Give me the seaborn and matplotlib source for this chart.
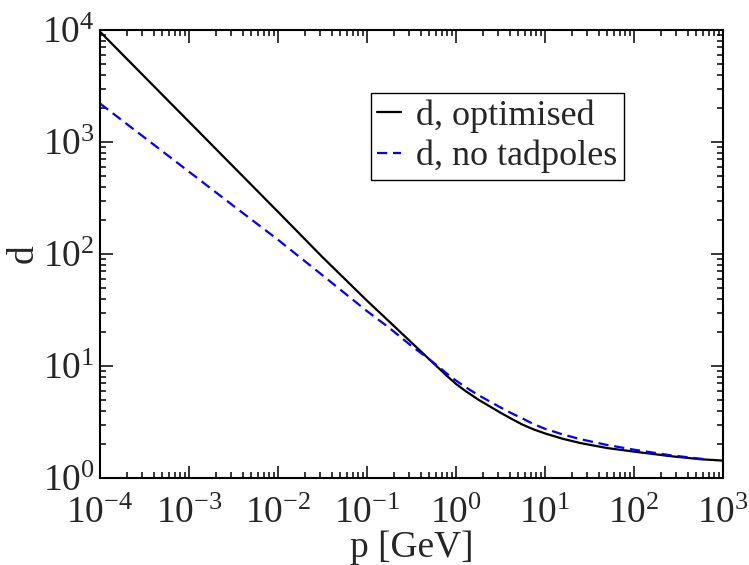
import numpy as np
import pandas as pd
import matplotlib
matplotlib.use("Agg")
import matplotlib.pyplot as plt
from matplotlib.ticker import FixedLocator, LogFormatterSciNotation, NullFormatter
import seaborn as sns

# momentum grid [GeV] and the two d curves
p_opt = [1e-4, 3.16e-4, 1e-3, 3.16e-3, 1e-2, 3.16e-2, 0.1, 0.178, 0.316,
         0.447, 0.631, 0.794, 1.0, 1.26, 1.78, 3.16, 4.22, 5.62, 7.5, 10,
         15.8, 25.1, 50.1, 100, 251, 562, 1000]
d_opt = [9660, 3828, 1517, 601, 238, 93.8, 38.3, 24.9, 16.2,
         12.5, 9.66, 8.13, 6.92, 6.03, 5.01, 3.83, 3.37, 2.99, 2.71, 2.50,
         2.24, 2.05, 1.85, 1.72, 1.57, 1.47, 1.43]

p_notad = [1e-4, 3.16e-4, 1e-3, 3.16e-3, 1e-2, 3.16e-2, 0.1, 0.178, 0.316,
           0.447, 0.631, 0.794, 1.0, 1.26, 1.78, 3.16, 4.22, 5.62, 7.5, 10,
           15.8, 25.1, 50.1, 100, 251, 631]
d_notad = [2208, 1096, 543, 269, 134, 64.6, 30.9, 21.9, 15.1,
           12.3, 9.93, 8.51, 7.41, 6.53, 5.50, 4.27, 3.78, 3.39, 3.02, 2.75,
           2.45, 2.22, 1.97, 1.79, 1.60, 1.47]

labels = ["d, optimised", "d, no tadpoles"]

x_decades = [-4, -3, -2, -1, 0, 1, 2, 3]
y_decades = [0, 1, 2, 3, 4]

sns.set_style("ticks")
plt.rcParams["font.family"] = ["Liberation Serif", "DejaVu Serif"]
plt.rcParams["mathtext.fontset"] = "custom"
plt.rcParams["mathtext.rm"] = "Liberation Serif"
plt.rcParams["mathtext.it"] = "Liberation Serif:italic"
plt.rcParams["mathtext.bf"] = "Liberation Serif:bold"

FS_TICK = 27
FS_LABEL = 27
FS_LEG = 26

fig = plt.figure(figsize=(7.49, 5.65), dpi=100)
ax = fig.add_axes([100 / 749, 1 - 478 / 565, 623 / 749, 448 / 565])

df_opt = pd.DataFrame({"p": p_opt, "d": d_opt})
df_notad = pd.DataFrame({"p": p_notad, "d": d_notad})

sns.lineplot(data=df_opt, x="p", y="d", ax=ax, color="black", lw=1.6,
             label=labels[0])
sns.lineplot(data=df_notad, x="p", y="d", ax=ax, color="#0000ff", lw=1.6,
             linestyle=(0, (4.6, 2.6)), label=labels[1])

ax.set_xscale("log")
ax.set_yscale("log")
ax.set_xlim(1e-4, 1e3)
ax.set_ylim(1, 1e4)


def log_ticks(decades):
    major = [10.0 ** k for k in decades]
    minor = [m * 10.0 ** k for k in decades[:-1] for m in range(2, 10)]
    return major, minor


for axis, decades in ((ax.xaxis, x_decades), (ax.yaxis, y_decades)):
    major, minor = log_ticks(decades)
    axis.set_major_locator(FixedLocator(major))
    axis.set_minor_locator(FixedLocator(minor))
    axis.set_major_formatter(LogFormatterSciNotation())
    axis.set_minor_formatter(NullFormatter())

ax.tick_params(which="both", direction="in", top=True, right=True,
               labelsize=FS_TICK, width=1.1, color="black")
ax.tick_params(which="major", length=9)
ax.tick_params(which="minor", length=4.5)
ax.tick_params(axis="x", which="major", pad=13)
ax.tick_params(axis="y", which="major", pad=4)
for s in ax.spines.values():
    s.set_linewidth(1.5)
    s.set_color("black")

ax.set_xlabel("p [GeV]", fontsize=FS_LABEL, labelpad=0)
ax.set_ylabel("d", fontsize=FS_LABEL, labelpad=1)

leg = ax.legend(loc="upper left", bbox_to_anchor=(371 / 749, 1 - 93 / 565),
                bbox_transform=fig.transFigure, borderaxespad=0,
                fontsize=FS_LEG, frameon=True, fancybox=False, shadow=False,
                handlelength=0.66, handletextpad=0.42, labelspacing=0.2,
                borderpad=0.17)
leg.get_frame().set_edgecolor("black")
leg.get_frame().set_linewidth(1.0)
leg.get_frame().set_alpha(1)

fig.savefig("out.png", dpi=100)
